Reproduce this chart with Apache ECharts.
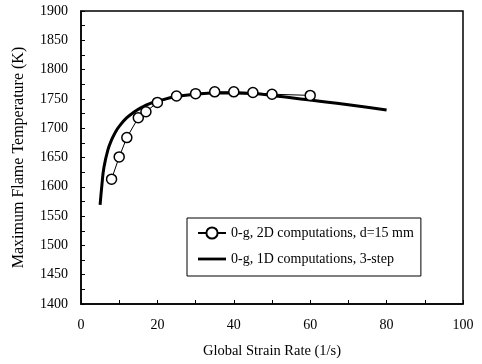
<!DOCTYPE html>
<html>
<head>
<meta charset="utf-8">
<script src="https://cdn.jsdelivr.net/npm/echarts@6/dist/echarts.min.js"></script>
<style>
html, body { margin: 0; padding: 0; background: #fff; }
#main { width: 482px; height: 364px; }
</style>
</head>
<body>
<div id="main"></div>
<script>
// 2D computations (circles)
var rate2D = [8, 10, 12, 15, 17, 20, 25, 30, 35, 40, 45, 50, 60];
var temp2D = [1613, 1651, 1684, 1718, 1728, 1744, 1755, 1759, 1762, 1762, 1761, 1758, 1756];
// 1D computations, 3-step (thick line)
var rate1D = [5, 5.5, 6, 7, 8, 9, 10, 12, 14, 16, 18, 20, 25, 30, 35, 40, 45, 50, 55, 60, 70, 80];
var temp1D = [1569, 1605, 1633, 1662, 1680, 1693, 1703, 1718, 1728, 1736, 1742, 1746, 1754, 1758, 1760, 1760, 1759, 1756, 1752, 1748, 1740, 1731];
var seriesNames = ['0-g, 2D computations, d=15 mm', '0-g, 1D computations, 3-step'];

function pairs(xs, ys) {
    return xs.map(function (x, i) { return [x, ys[i]]; });
}

var font = 'Liberation Serif, Times New Roman, serif';
var chart = echarts.init(document.getElementById('main'));
var option = {
    animation: false,
    textStyle: { fontFamily: font, color: '#000' },
    grid: {
        left: 81, right: 19, top: 11, bottom: 60,
        show: true, borderColor: '#000', borderWidth: 1.5
    },
    legend: {
        orient: 'vertical',
        left: 187, top: 218,
        padding: [8, 7, 10, 10],
        itemGap: 12,
        itemWidth: 28,
        itemHeight: 14,
        borderColor: '#000',
        borderWidth: 1,
        backgroundColor: '#fff',
        textStyle: { fontFamily: font, fontSize: 14, color: '#000' },
        data: [
            { name: seriesNames[0] },
            { name: seriesNames[1], icon: 'path://M0,0H40V4H0Z' }
        ]
    },
    xAxis: {
        type: 'value', min: 0, max: 100, interval: 20,
        name: 'Global Strain Rate (1/s)',
        nameLocation: 'middle', nameGap: 40,
        nameTextStyle: { fontFamily: font, fontSize: 14.5, color: '#000' },
        axisLine: { onZero: false, lineStyle: { color: '#000', width: 1.5 } },
        axisTick: { inside: true, length: 4, lineStyle: { color: '#000' } },
        minorTick: { show: true, splitNumber: 2, length: 4, lineStyle: { color: '#000' } },
        axisLabel: { fontFamily: font, fontSize: 14, color: '#000', margin: 14 },
        splitLine: { show: false }
    },
    yAxis: {
        type: 'value', min: 1400, max: 1900, interval: 50,
        name: 'Maximum Flame Temperature (K)',
        nameLocation: 'middle', nameGap: 54,
        nameTextStyle: { fontFamily: font, fontSize: 16, color: '#000' },
        axisLine: { onZero: false, lineStyle: { color: '#000', width: 1.5 } },
        axisTick: { inside: true, length: 4, lineStyle: { color: '#000' } },
        minorTick: { show: true, splitNumber: 2, length: 4, lineStyle: { color: '#000' } },
        axisLabel: {
            fontFamily: font, fontSize: 14, color: '#000', margin: 13,
            formatter: function (v) { return String(v); }
        },
        splitLine: { show: false }
    },
    series: [{
        name: seriesNames[0],
        type: 'line',
        z: 5,
        data: pairs(rate2D, temp2D),
        symbol: 'circle',
        symbolSize: 10,
        color: '#000',
        lineStyle: { color: '#000', width: 1 },
        itemStyle: { color: '#fff', borderColor: '#000', borderWidth: 1.5 }
    }, {
        name: seriesNames[1],
        type: 'line',
        z: 3,
        data: pairs(rate1D, temp1D),
        smooth: true,
        showSymbol: false,
        symbol: 'none',
        color: '#000',
        lineStyle: { color: '#000', width: 3 }
    }]
};
chart.setOption(option);
</script>
</body>
</html>
